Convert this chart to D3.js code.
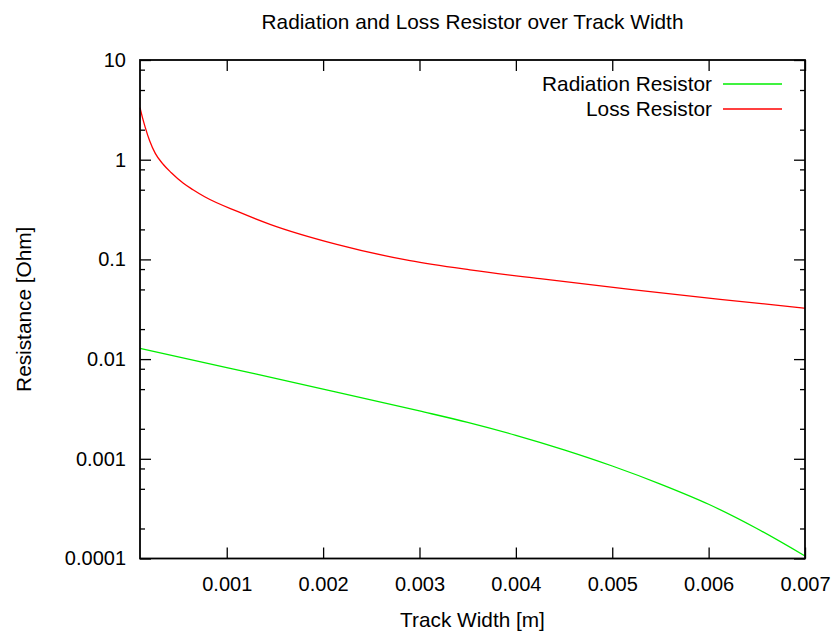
<!DOCTYPE html>
<html>
<head>
<meta charset="utf-8">
<script src="https://cdn.jsdelivr.net/npm/d3@7"></script>
<style>
  body { margin: 0; background: #fff; }
  text { font-family: "Liberation Sans", Arial, sans-serif; fill: #000; }
</style>
</head>
<body>
<div id="chart"></div>
<script>
// values
const lossWidth = [0.0001, 0.00013, 0.000155, 0.0002, 0.00026, 0.00034, 0.000425, 0.00055, 0.00065, 0.000771, 0.001117, 0.001449, 0.002141, 0.002902, 0.003524, 0.00425, 0.005184, 0.006118, 0.007];
const lossRes   = [3.33, 2.55, 2.1, 1.55, 1.15, 0.9, 0.74, 0.58, 0.5, 0.425, 0.301, 0.225, 0.1416, 0.0971, 0.0785, 0.064, 0.0501, 0.0398, 0.0324];

const radWidth = [0.0001, 0.001, 0.002, 0.003, 0.0035, 0.004, 0.0045, 0.005, 0.0055, 0.006, 0.0065, 0.007];
const radRes   = [0.01282, 0.00822, 0.00501, 0.00302, 0.00232, 0.00172, 0.00123, 0.000847, 0.000558, 0.00035, 0.0002, 0.000106];

const xTicks = [0.001, 0.002, 0.003, 0.004, 0.005, 0.006, 0.007];
const yTicks = [0.0001, 0.001, 0.01, 0.1, 1, 10];
const yMinor = [2, 5, 8];

const series = [
  {name: "Radiation Resistor", color: "#00ee00", xs: radWidth, ys: radRes},
  {name: "Loss Resistor", color: "#ff0000", xs: lossWidth, ys: lossRes}
];

const W = 831, H = 632;
const margin = {top: 60, right: 26, bottom: 73.5, left: 140};
const w = W - margin.left - margin.right,
      h = H - margin.top - margin.bottom;
const fs = 20.8, tickFs = 20;

const svg = d3.select("#chart").append("svg")
  .attr("width", W)
  .attr("height", H);

const g = svg.append("g")
  .attr("transform", `translate(${margin.left},${margin.top})`);

const x = d3.scaleLinear().domain([0.0001, 0.007]).range([0, w]);
const y = d3.scaleLog().domain([0.0001, 10]).range([h, 0]);

// minor ticks of the log axis
const minorVals = [];
yTicks.slice(0, -1).forEach(function(t) {
  yMinor.forEach(function(m) { minorVals.push(t * m); });
});

function styleAxis(sel) {
  sel.select(".domain").remove();
  sel.selectAll("line").attr("stroke", "#000").attr("stroke-width", 1.3);
  sel.selectAll("text").style("font-size", tickFs + "px").attr("fill", "#000");
}

// x axis bottom & mirrored top
g.append("g")
  .attr("transform", `translate(0,${h})`)
  .call(d3.axisBottom(x).tickValues(xTicks).tickSize(-11).tickPadding(18)
    .tickFormat(d3.format(".3f")))
  .call(styleAxis);
g.append("g")
  .call(d3.axisTop(x).tickValues(xTicks).tickSize(-11).tickFormat(""))
  .call(styleAxis);

// y axis left & mirrored right
g.append("g")
  .call(d3.axisLeft(y).tickValues(yTicks).tickSize(-11).tickPadding(14)
    .tickFormat(function(d) { return String(+d.toPrecision(1)); }))
  .call(styleAxis);
g.append("g")
  .call(d3.axisLeft(y).tickValues(minorVals).tickSize(-5).tickFormat(""))
  .call(styleAxis);
g.append("g")
  .attr("transform", `translate(${w},0)`)
  .call(d3.axisRight(y).tickValues(yTicks).tickSize(-11).tickFormat(""))
  .call(styleAxis);
g.append("g")
  .attr("transform", `translate(${w},0)`)
  .call(d3.axisRight(y).tickValues(minorVals).tickSize(-5).tickFormat(""))
  .call(styleAxis);

// lines
const line = d3.line().curve(d3.curveMonotoneX);
series.forEach(function(s) {
  const pts = s.xs.map(function(v, i) { return [x(v), y(s.ys[i])]; });
  g.append("path")
    .attr("d", line(pts))
    .attr("fill", "none")
    .attr("stroke", s.color)
    .attr("stroke-width", 1.3);
});

// frame
g.append("rect")
  .attr("width", w).attr("height", h)
  .attr("fill", "none")
  .attr("stroke", "#000")
  .attr("stroke-width", 1.8);

// legend
const leg = g.selectAll(".leg").data(series).join("g")
  .attr("class", "leg")
  .attr("transform", function(d, i) { return `translate(0,${24 + i * 25})`; });
leg.append("text")
  .attr("x", 572)
  .attr("dy", "0.35em")
  .attr("text-anchor", "end")
  .style("font-size", fs + "px")
  .text(function(d) { return d.name; });
leg.append("line")
  .attr("x1", 583).attr("x2", 642)
  .attr("stroke", function(d) { return d.color; })
  .attr("stroke-width", 1.3);

// title and axis labels
svg.append("text")
  .attr("x", margin.left + w / 2).attr("y", 22)
  .attr("dy", "0.35em")
  .attr("text-anchor", "middle")
  .style("font-size", fs + "px")
  .text("Radiation and Loss Resistor over Track Width");

svg.append("text")
  .attr("x", margin.left + w / 2).attr("y", 620)
  .attr("dy", "0.35em")
  .attr("text-anchor", "middle")
  .style("font-size", fs + "px")
  .text("Track Width [m]");

svg.append("text")
  .attr("transform", `translate(24,${margin.top + h / 2}) rotate(-90)`)
  .attr("dy", "0.35em")
  .attr("text-anchor", "middle")
  .style("font-size", fs + "px")
  .text("Resistance [Ohm]");
</script>
</body>
</html>
